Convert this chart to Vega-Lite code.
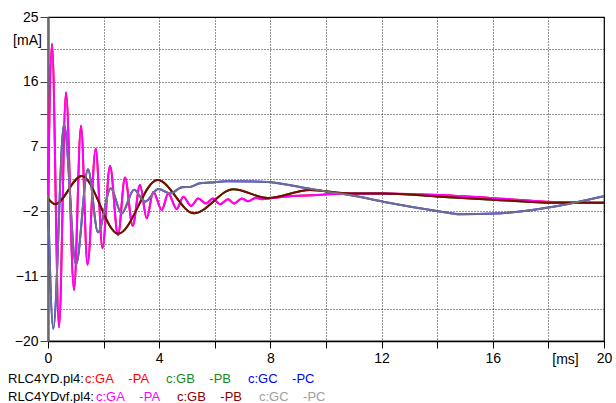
{
  "$schema": "https://vega.github.io/schema/vega-lite/v6.json",
  "width": 556,
  "height": 324,
  "autosize": {"type": "none"},
  "padding": {"left": 48, "top": 17, "right": 12, "bottom": 62},
  "background": "white",
  "config": {
    "font": "Liberation Sans",
    "view": {"stroke": "#000", "strokeWidth": 1.2}
  },
  "datasets": {
    "curves": [
      {"curve": "GA", "t": 0, "v": 0.3},
      {"curve": "GA", "t": 0.144, "v": 21.3},
      {"curve": "GA", "t": 0.396, "v": -18.1},
      {"curve": "GA", "t": 0.647, "v": 14.5},
      {"curve": "GA", "t": 0.935, "v": -12.9},
      {"curve": "GA", "t": 1.187, "v": 9.9},
      {"curve": "GA", "t": 1.421, "v": -9.4},
      {"curve": "GA", "t": 1.716, "v": 6.7},
      {"curve": "GA", "t": 1.96, "v": -7.1},
      {"curve": "GA", "t": 2.23, "v": 4.35},
      {"curve": "GA", "t": 2.518, "v": -5.3},
      {"curve": "GA", "t": 2.77, "v": 2.7},
      {"curve": "GA", "t": 3.047, "v": -4.0},
      {"curve": "GA", "t": 3.309, "v": 1.67},
      {"curve": "GA", "t": 3.55, "v": -2.96},
      {"curve": "GA", "t": 3.788, "v": 0.74},
      {"curve": "GA", "t": 4.09, "v": -1.8},
      {"curve": "GA", "t": 4.327, "v": 0.5},
      {"curve": "GA", "t": 4.629, "v": -1.67},
      {"curve": "GA", "t": 4.867, "v": 0.04},
      {"curve": "GA", "t": 5.144, "v": -1.25},
      {"curve": "GA", "t": 5.406, "v": -0.2},
      {"curve": "GA", "t": 5.683, "v": -0.9},
      {"curve": "GA", "t": 5.935, "v": -0.2},
      {"curve": "GA", "t": 6.187, "v": -1.0},
      {"curve": "GA", "t": 6.475, "v": -0.3},
      {"curve": "GA", "t": 6.691, "v": -0.9},
      {"curve": "GA", "t": 6.978, "v": -0.2},
      {"curve": "GA", "t": 7.194, "v": -0.6},
      {"curve": "GA", "t": 7.482, "v": -0.1},
      {"curve": "GA", "t": 7.698, "v": -0.3},
      {"curve": "GA", "t": 8.453, "v": 0.04},
      {"curve": "GA", "t": 9.676, "v": 0.28},
      {"curve": "GA", "t": 10.863, "v": 0.5},
      {"curve": "GA", "t": 12.05, "v": 0.5},
      {"curve": "GA", "t": 14.1, "v": 0.28},
      {"curve": "GA", "t": 16.15, "v": -0.2},
      {"curve": "GA", "t": 18.17, "v": -0.7},
      {"curve": "GA", "t": 20, "v": -0.8},
      {"curve": "GB", "t": 0, "v": -0.2},
      {"curve": "GB", "t": 0.252, "v": -1.0},
      {"curve": "GB", "t": 1.212, "v": 2.9},
      {"curve": "GB", "t": 2.529, "v": -5.1},
      {"curve": "GB", "t": 3.939, "v": 2.36},
      {"curve": "GB", "t": 5.252, "v": -2.26},
      {"curve": "GB", "t": 6.665, "v": 1.07},
      {"curve": "GB", "t": 7.914, "v": -0.15},
      {"curve": "GB", "t": 9.424, "v": 0.97},
      {"curve": "GB", "t": 10.863, "v": 0.5},
      {"curve": "GB", "t": 12.05, "v": 0.5},
      {"curve": "GB", "t": 14.1, "v": 0.04},
      {"curve": "GB", "t": 16.15, "v": -0.4},
      {"curve": "GB", "t": 18.17, "v": -0.8},
      {"curve": "GB", "t": 20, "v": -0.8},
      {"curve": "GC", "t": 0, "v": 0},
      {"curve": "GC", "t": 0.19, "v": -18.3},
      {"curve": "GC", "t": 0.576, "v": 10.1},
      {"curve": "GC", "t": 1.007, "v": -9.4},
      {"curve": "GC", "t": 1.439, "v": 3.85},
      {"curve": "GC", "t": 1.799, "v": -4.9},
      {"curve": "GC", "t": 2.255, "v": 1.2},
      {"curve": "GC", "t": 2.651, "v": -2.3},
      {"curve": "GC", "t": 3.094, "v": 1.0},
      {"curve": "GC", "t": 3.489, "v": -0.65},
      {"curve": "GC", "t": 3.968, "v": 1.1},
      {"curve": "GC", "t": 4.388, "v": 0.5},
      {"curve": "GC", "t": 4.82, "v": 1.35},
      {"curve": "GC", "t": 5.108, "v": 1.4},
      {"curve": "GC", "t": 5.468, "v": 1.9},
      {"curve": "GC", "t": 5.827, "v": 2.0},
      {"curve": "GC", "t": 6.439, "v": 2.2},
      {"curve": "GC", "t": 7.878, "v": 2.1},
      {"curve": "GC", "t": 9.065, "v": 1.4},
      {"curve": "GC", "t": 10.036, "v": 0.74},
      {"curve": "GC", "t": 10.863, "v": 0.28},
      {"curve": "GC", "t": 12.05, "v": -0.65},
      {"curve": "GC", "t": 14.1, "v": -2.0},
      {"curve": "GC", "t": 14.82, "v": -2.4},
      {"curve": "GC", "t": 16.08, "v": -2.3},
      {"curve": "GC", "t": 18.17, "v": -1.35},
      {"curve": "GC", "t": 20, "v": 0.1}
    ]
  },
  "data": {"name": "curves"},
  "encoding": {
    "x": {
      "field": "t",
      "type": "quantitative",
      "scale": {"domain": [0, 20], "nice": false, "zero": false},
      "axis": {
        "values": [0, 2, 4, 6, 8, 10, 12, 14, 16, 18, 20],
        "labelExpr": "datum.value % 4 == 0 ? datum.label : ''",
        "labelFontSize": 14,
        "labelColor": "#000",
        "labelPadding": 3,
        "labelFlush": false,
        "tickSize": 7,
        "tickColor": "#000",
        "domainColor": "#000",
        "domainWidth": 1.5,
        "grid": true,
        "gridColor": "#000",
        "gridDash": [1, 2],
        "gridWidth": 1,
        "gridOpacity": 0.85,
        "title": "[ms]",
        "titleFontSize": 14,
        "titleFontWeight": "normal",
        "titleColor": "#000",
        "titleX": 517,
        "titleY": 18,
        "titleAlign": "center",
        "titleBaseline": "middle"
      }
    },
    "y": {
      "field": "v",
      "type": "quantitative",
      "scale": {"domain": [-20, 25], "nice": false, "zero": false},
      "axis": {
        "values": [-20, -15.5, -11, -6.5, -2, 2.5, 7, 11.5, 16, 20.5, 25],
        "labelExpr": "indexof([-20, -11, -2, 7, 16, 25], datum.value) >= 0 ? datum.label : ''",
        "labelFontSize": 14,
        "labelColor": "#000",
        "labelPadding": 2,
        "labelFlush": false,
        "tickSize": 8,
        "tickColor": "#444",
        "domainColor": "#6a6a6a",
        "domainWidth": 2.5,
        "grid": true,
        "gridColor": "#000",
        "gridDash": [1, 2],
        "gridWidth": 1,
        "gridOpacity": 0.85,
        "title": "[mA]",
        "titleAngle": 0,
        "titleFontSize": 14,
        "titleFontWeight": "normal",
        "titleColor": "#000",
        "titleX": -21,
        "titleY": 23,
        "titleAlign": "center",
        "titleBaseline": "middle"
      }
    }
  },
  "layer": [
    {
      "mark": {"type": "line", "interpolate": "monotone", "strokeWidth": 2},
      "encoding": {
        "color": {
          "field": "curve",
          "type": "nominal",
          "scale": {"domain": ["GA", "GB", "GC"], "range": ["#ff0000", "#008000", "#0000ff"]},
          "legend": {
            "orient": "none",
            "legendX": -40,
            "legendY": 355,
            "direction": "horizontal",
            "title": "RLC4YD.pl4:",
            "titleOrient": "left",
            "titleFontSize": 13,
            "titleFontWeight": "normal",
            "titleColor": "#000",
            "titlePadding": 1,
            "labelFontSize": 13,
            "labelExpr": "'c:' + datum.label + '\u00a0\u00a0\u00a0\u00a0-P' + substring(datum.label, 1)",
            "symbolSize": 0,
            "symbolStrokeWidth": 0,
            "symbolOpacity": 0,
            "labelOffset": -13,
            "columnPadding": 16,
            "encode": {"labels": {"update": {"fill": {"signal": "datum.value == 'GA' ? '#ff0000' : datum.value == 'GB' ? '#1a8a1a' : '#0000ff'"}}}}
          }
        }
      }
    },
    {
      "mark": {"type": "line", "interpolate": "monotone", "strokeWidth": 2},
      "encoding": {
        "color": {
          "field": "curve",
          "type": "nominal",
          "scale": {"domain": ["GA", "GB", "GC"], "range": ["#ff00ff", "#7a0a00", "#808080"]},
          "legend": {
            "orient": "none",
            "legendX": -40,
            "legendY": 373,
            "direction": "horizontal",
            "title": "RLC4YDvf.pl4:",
            "titleOrient": "left",
            "titleFontSize": 13,
            "titleFontWeight": "normal",
            "titleColor": "#000",
            "titlePadding": 2,
            "labelFontSize": 13,
            "labelExpr": "'c:' + datum.label + '\u00a0\u00a0\u00a0\u00a0-P' + substring(datum.label, 1)",
            "symbolSize": 0,
            "symbolStrokeWidth": 0,
            "symbolOpacity": 0,
            "labelOffset": -13,
            "columnPadding": 16,
            "encode": {"labels": {"update": {"fill": {"signal": "datum.value == 'GA' ? '#ff00ff' : datum.value == 'GB' ? '#8b0000' : '#a0a0a0'"}}}}
          }
        },
        "strokeOpacity": {"condition": {"test": "datum.curve == 'GC'", "value": 0.85}, "value": 1}
      }
    }
  ],
  "resolve": {"scale": {"color": "independent"}, "legend": {"color": "independent"}}
}
